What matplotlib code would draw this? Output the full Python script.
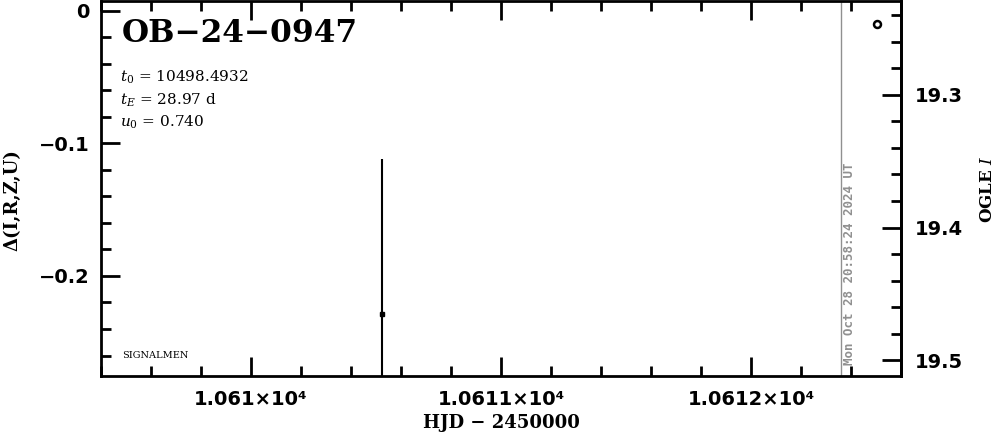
import numpy as np
import matplotlib
matplotlib.use('Agg')
import matplotlib.pyplot as plt
from matplotlib.ticker import MultipleLocator, FixedLocator, FuncFormatter

# data (HJD - 2450000, delta mag, error)
hjd = [10610.523, 10612.504]
dmag = [-0.2287, -0.0100]
derr = [0.1169, 0.0]
now_hjd = 10612.36
mag_zero = 19.2365
mag_ticks = [19.3, 19.4, 19.5]

title = 'OB\u221224\u22120947'
params = ['$t_0$ = 10498.4932', '$t_E$ = 28.97 d', '$u_0$ = 0.740']

plt.rcParams['mathtext.fontset'] = 'dejavuserif'
fig = plt.figure(figsize=(10.04, 4.34), dpi=100)
ax = fig.add_axes([0.1006, 0.1325, 0.7968, 0.8652])

ax.errorbar(hjd[:1], dmag[:1], yerr=derr[:1], fmt='s', ms=2.5, color='black',
            elinewidth=1.5, capsize=0)
ax.plot(hjd[1:], dmag[1:], 'o', ms=5, mfc='white', mec='black', mew=1.8)

ax.axvline(now_hjd, color='#909090', lw=1)
ax.text(now_hjd + 0.035, -0.2675, 'Mon Oct 28 20:58:24 2024 UT', rotation=90,
        color='#909090', fontsize=9, fontweight='bold', family='DejaVu Sans Mono',
        ha='center', va='bottom')

ax.set_xlim(10609.4, 10612.6)
ax.set_ylim(-0.2758, 0.0073)

ax.xaxis.set_major_locator(MultipleLocator(1))
ax.xaxis.set_minor_locator(MultipleLocator(0.2))
ax.yaxis.set_major_locator(MultipleLocator(0.1))
ax.yaxis.set_minor_locator(MultipleLocator(0.02))

def fmt_x(v, pos):
    s = ('%.4f' % (v / 1e4)).rstrip('0')
    return s + '\u00d710\u2074'

def fmt_y(v, pos):
    if abs(v) < 1e-9:
        return '0'
    return ('%.1f' % v).replace('-', '\u2212')

ax.xaxis.set_major_formatter(FuncFormatter(fmt_x))
ax.yaxis.set_major_formatter(FuncFormatter(fmt_y))

ax.tick_params(which='both', direction='in', top=True, right=False, width=2)
ax.tick_params(which='major', length=14, labelsize=14, pad=8)
ax.tick_params(which='minor', length=7)
ax.tick_params(axis='x', pad=10)
for lab in ax.get_yticklabels() + ax.get_xticklabels():
    lab.set_fontweight('bold')
for sp in ax.spines.values():
    sp.set_linewidth(2)

# right magnitude axis
sec = ax.secondary_yaxis('right', functions=(lambda d: mag_zero - d, lambda m: mag_zero - m))
sec.yaxis.set_major_locator(FixedLocator(mag_ticks))
sec.yaxis.set_minor_locator(MultipleLocator(0.02))
sec.yaxis.set_major_formatter(FuncFormatter(lambda v, p: '%.1f' % v))
sec.tick_params(which='both', direction='in', width=2)
sec.tick_params(which='major', length=14, labelsize=14, pad=10)
sec.tick_params(which='minor', length=7)
for lab in sec.get_yticklabels():
    lab.set_fontweight('bold')
sec.spines['right'].set_linewidth(2)
sec.set_ylabel('OGLE $\\mathit{I}$', family='DejaVu Serif', fontweight='bold',
               fontsize=12, labelpad=24, rotation=90, va='bottom')

ax.set_xlabel('HJD \u2212 2450000', family='DejaVu Serif', fontweight='bold',
              fontsize=13, labelpad=3)
ax.set_ylabel('\u0394(I,R,Z,U)', family='DejaVu Serif', fontweight='bold', fontsize=13)
ax.yaxis.set_label_coords(-0.099, 0.47)

ax.text(0.026, 0.955, title, transform=ax.transAxes, family='DejaVu Serif',
        fontweight='bold', fontsize=22.5, va='top', ha='left')
for i, p in enumerate(params):
    ax.text(0.024, 0.82 - i * 0.06, p, transform=ax.transAxes,
            family='DejaVu Serif', fontsize=11, va='top', ha='left')
ax.text(0.026, 0.057, 'SIGNALMEN', transform=ax.transAxes, family='DejaVu Serif',
        fontsize=7, va='center', ha='left')

fig.savefig('out.png', dpi=100)
